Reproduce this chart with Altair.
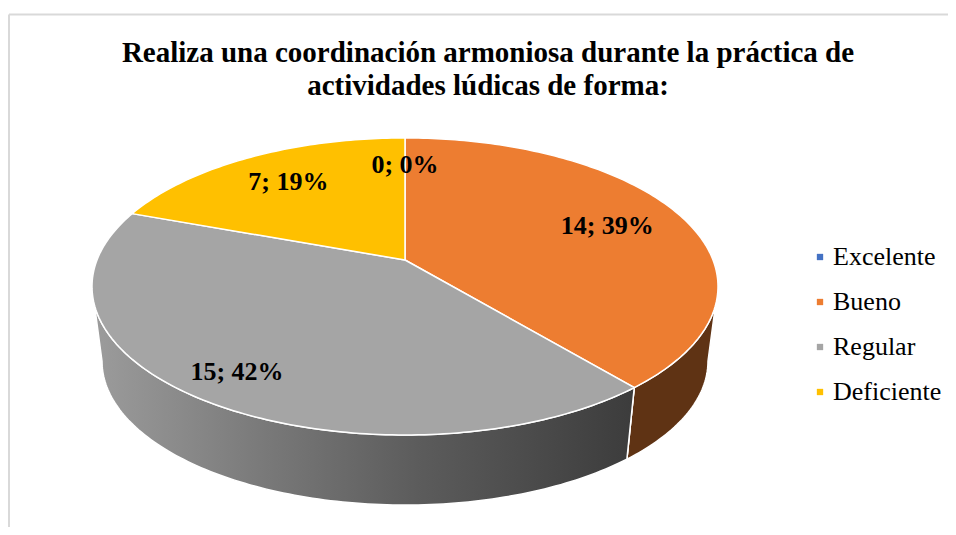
import math
import altair as alt
import pandas as pd

# ---- data ----
categories = ["Excelente", "Bueno", "Regular", "Deficiente"]
counts = [0, 14, 15, 7]
face_colors = ["#4472C4", "#ED7D31", "#A5A5A5", "#FFC000"]
side_colors = ["#2A4577", "#5F3314", "#606060", "#8C6A00"]
title_lines = [
    "Realiza una coordinación armoniosa durante la práctica de",
    "actividades lúdicas de forma:",
]

# ---- 3D pie layout (perspective ellipse) ----
TILT = 0.467          # vertical squash of the disc
PERSP = 0.178         # perspective strength (front larger)
DEPTH = 0.2457        # thickness of the pie
BOTTOM_SCALE = 0.968  # bottom face appears slightly smaller
RADIUS_PX = 308
PAD_TOP = 6
W, H = 940, 513
CENTER = [397, 260 - 8 - PAD_TOP]
LABEL_RADIUS = {"Excelente": 0.75, "Bueno": 0.73, "Regular": 0.835, "Deficiente": 0.73}


def top_pt(deg, f=1.0):
    t = math.radians(deg)
    X = f * math.sin(t)
    Z = -f * math.cos(t)
    w = 1 - PERSP * Z
    return [X / w, TILT * Z / w]


def bottom_pt(deg):
    x, y = top_pt(deg)
    return [BOTTOM_SCALE * x, DEPTH + BOTTOM_SCALE * y]


def arc(a0, a1, fn):
    n = max(2, int(math.ceil(abs(a1 - a0))) + 1)
    return [fn(a0 + (a1 - a0) * i / (n - 1)) for i in range(n)]


total = sum(counts)
sil_right = math.degrees(math.acos(-PERSP))
sil_left = 360 - sil_right

tops, walls, labels = [], [], []
start = 0.0
for cat, v in zip(categories, counts):
    span = v / total * 360
    a0, a1 = start, start + span
    start = a1
    mid = (a0 + a1) / 2
    lx, ly = top_pt(mid, LABEL_RADIUS[cat])
    labels.append({"cat": cat, "lx": lx, "ly": ly,
                   "label": f"{v}; {round(v / total * 100)}%"})
    if v == 0:
        continue
    ring = [[0, 0]] + arc(a0, a1, top_pt) + [[0, 0]]
    tops.append({"type": "Feature", "properties": {"cat": cat},
                 "geometry": {"type": "Polygon", "coordinates": [ring]}})
    lo, hi = max(a0, sil_right), min(a1, sil_left)
    if hi > lo:
        up = arc(lo, hi, top_pt)
        dn = arc(lo, hi, bottom_pt)[::-1]
        wring = up + dn + [up[0]]
        walls.append({"type": "Feature", "properties": {"cat": cat},
                      "geometry": {"type": "Polygon", "coordinates": [wring]}})

proj = dict(type="identity", scale=RADIUS_PX, translate=CENTER)

top_layer = alt.Chart(alt.Data(values=tops)).mark_geoshape(
    stroke="white", strokeWidth=1.5
).encode(
    color=alt.Color("properties.cat:N",
                    scale=alt.Scale(domain=categories, range=face_colors),
                    legend=alt.Legend(title=None))
).project(**proj)

wall_layer = alt.Chart(alt.Data(values=walls)).mark_geoshape(
    stroke="white", strokeWidth=1.5
).encode(
    color=alt.Color("properties.cat:N",
                    scale=alt.Scale(domain=categories, range=side_colors),
                    legend=None)
).project(**proj)

gray_wall = alt.Chart(alt.Data(values=[f for f in walls if f["properties"]["cat"] == "Regular"])).mark_geoshape(
    stroke="white", strokeWidth=1.5,
    fill=alt.Gradient(
        gradient="linear", x1=0, x2=1, y1=0, y2=0,
        stops=[alt.GradientStop(offset=0, color="#9C9C9C"),
               alt.GradientStop(offset=0.3, color="#7B7B7B"),
               alt.GradientStop(offset=0.6, color="#5C5C5C"),
               alt.GradientStop(offset=1, color="#3C3C3C")]),
).project(**proj)

label_layer = alt.Chart(pd.DataFrame(labels)).mark_text(
    font="Liberation Serif", fontSize=26, fontWeight="bold", color="black",
    align="center", baseline="middle"
).encode(
    longitude="lx:Q", latitude="ly:Q", text="label:N"
).project(**proj)

dummy = alt.Data(values=[{}])
border_top = alt.Chart(dummy).mark_rule(color="#D9D9D9", strokeWidth=2).encode(
    x=alt.value(1), x2=alt.value(W), y=alt.value(0.5))
border_left = alt.Chart(dummy).mark_rule(color="#D9D9D9", strokeWidth=2).encode(
    x=alt.value(1), y=alt.value(0.5), y2=alt.value(H))

chart = alt.layer(
    border_top, border_left, wall_layer, gray_wall, top_layer, label_layer
).resolve_scale(color="independent").properties(
    width=W, height=H,
    padding={"top": PAD_TOP, "left": 0, "right": 0, "bottom": 0},
    autosize=alt.AutoSizeParams(type="none"),
    title=alt.TitleParams(
        text=title_lines, font="Liberation Serif", fontSize=29, fontWeight="bold",
        color="black", anchor="middle", frame="group", lineHeight=33,
        baseline="alphabetic", offset=0, dx=10, dy=110),
).configure_view(stroke=None).configure_legend(
    orient="none", legendX=799, legendY=230,
    symbolType="square", symbolSize=40, symbolStrokeWidth=0,
    labelFont="Liberation Serif", labelFontSize=26, labelColor="black",
    labelOffset=0, rowPadding=19, padding=0, labelLimit=300,
)

chart.save("out.html", embed_options={"renderer": "svg", "actions": False})
